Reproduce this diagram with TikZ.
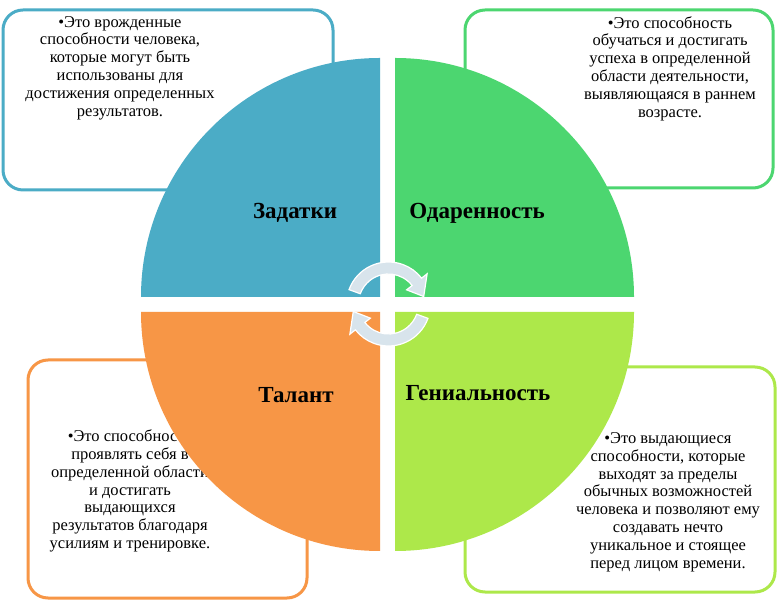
\documentclass[tikz,border=0pt]{standalone}
\usepackage{fontspec}
\setmainfont{Liberation Serif}
\begin{document}
\begin{tikzpicture}[x=1pt,y=1pt,
  box/.style={draw, line width=3pt, rounded corners=20pt, fill=white},
  desc/.style={align=center, font=\fontsize{16.5}{17.8}\selectfont, text=black, inner sep=0pt},
  title/.style={font=\fontsize{23}{26}\selectfont\bfseries, text=black},
  cyc/.style={fill=arrowfill, draw=white, line width=1.2pt}]
\definecolor{qblue}{HTML}{4BACC6}
\definecolor{qgreen}{HTML}{4CD670}
\definecolor{qorange}{HTML}{F79646}
\definecolor{qlime}{HTML}{ADE84A}
\definecolor{arrowfill}{HTML}{D8E4EC}
\useasboundingbox (0,0) rectangle (778,607);
\fill[white] (0,0) rectangle (778,607);
% boxes
\draw[box, draw=qblue] (3,417) rectangle (333,597);
\draw[box, draw=qgreen] (465,419) rectangle (773,597);
\draw[box, draw=qorange] (28,9) rectangle (307,247);
\draw[box, draw=qlime] (465,15) rectangle (775,240);
% texts
\node[desc, anchor=north] (t1) at (120,591) {•Это врожденные\\способности человека,\\которые могут быть\\использованы для\\достижения определенных\\результатов.};
\node[desc, anchor=north] (t2) at (670,591) {•Это способность\\обучаться и достигать\\успеха в определенной\\области деятельности,\\выявляющаяся в раннем\\возрасте.};
\node[desc] (t3) at (130,116) {•Это способность\\проявлять себя в\\определенной области\\и достигать\\выдающихся\\результатов благодаря\\усилиям и тренировке.};
\node[desc] (t4) at (668,105) {•Это выдающиеся\\способности, которые\\выходят за пределы\\обычных возможностей\\человека и позволяют ему\\создавать нечто\\уникальное и стоящее\\перед лицом времени.};
% quadrants
\fill[qblue] (380,310) -- ++(-239,0) arc[start angle=180,end angle=90,radius=239] -- cycle;
\fill[qgreen] (395,310) -- ++(0,239) arc[start angle=90,end angle=0,radius=239] -- cycle;
\fill[qorange] (380,295) -- ++(-239,0) arc[start angle=180,end angle=270,radius=239] -- cycle;
\fill[qlime] (395,295) -- ++(239,0) arc[start angle=0,end angle=-90,radius=239] -- cycle;
% titles
\node[title] (z) at (295,394) {Задатки};
\node[title] (o) at (477,394) {Одаренность};
\node[title] (t) at (296,212) {Талант};
\node[title] (g) at (478,214) {Гениальность};
% cycle arrows
\coordinate (c) at (388.5,303);
\draw[cyc] ([shift={(160:42)}]c) arc[start angle=160,end angle=38,radius=42]
  -- ([shift={(38:49)}]c) -- ([shift={(12:36)}]c) -- ([shift={(38:23)}]c)
  -- ([shift={(38:30)}]c) arc[start angle=38,end angle=160,radius=30] -- cycle;
\draw[cyc] ([shift={(-20:42)}]c) arc[start angle=-20,end angle=-142,radius=42]
  -- ([shift={(-142:49)}]c) -- ([shift={(-168:36)}]c) -- ([shift={(-142:23)}]c)
  -- ([shift={(-142:30)}]c) arc[start angle=-142,end angle=-20,radius=30] -- cycle;
\end{tikzpicture}
\end{document}
